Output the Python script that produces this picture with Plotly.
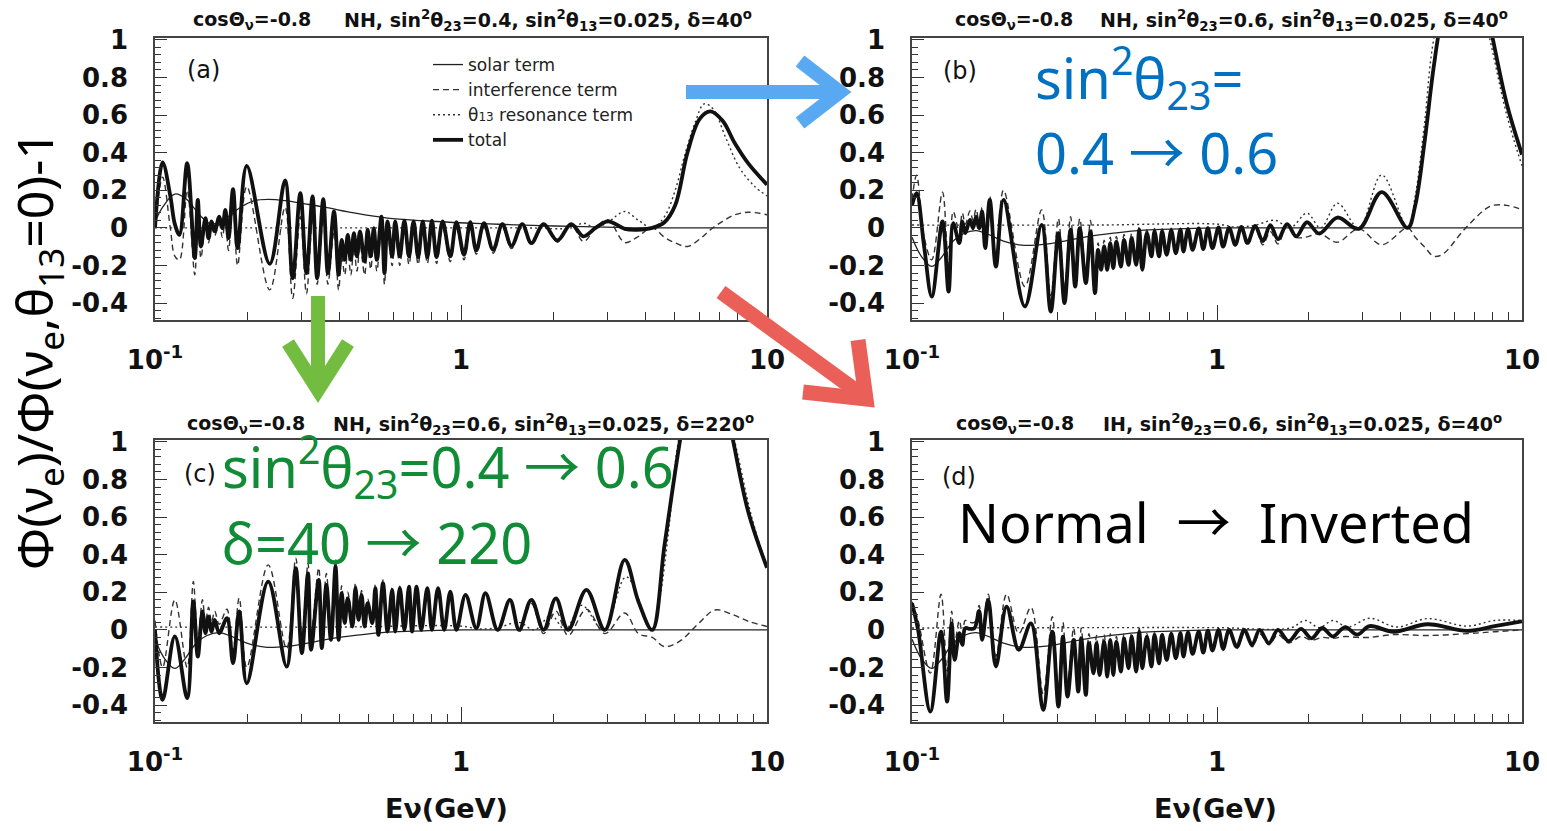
import plotly.graph_objects as go

W, H = 1547, 831

# ---------------- panel (a): NH, sin^2(theta23)=0.4, delta=40 ----------------
E_a = [0.1000, 0.1059, 0.1122, 0.1161, 0.1202, 0.1274, 0.1349, 0.1380, 0.1413, 0.1462,
       0.1496, 0.1531, 0.1567, 0.1622, 0.1660, 0.1698, 0.1738, 0.1799, 0.1862, 0.1995,
       0.2371, 0.2661, 0.2818, 0.2985, 0.3126, 0.3273, 0.3388, 0.3548, 0.3673, 0.3846,
       0.3981, 0.4074, 0.4169, 0.4266, 0.4365, 0.4467, 0.4571, 0.4677, 0.4842, 0.4955,
       0.5070, 0.5188, 0.5309, 0.5495, 0.5623, 0.5754, 0.5957, 0.6096, 0.6310, 0.6531,
       0.6761, 0.6998, 0.7244, 0.7499, 0.7762, 0.8035, 0.8318, 0.8710, 0.9226, 0.9661,
       1.023, 1.072, 1.122, 1.189, 1.274, 1.365, 1.462, 1.585, 1.698, 1.862,
       2.065, 2.291, 2.512, 2.754, 3.020, 3.428, 3.758, 4.217, 4.624, 5.012,
       5.495, 6.026, 6.532, 7.161, 7.852, 8.710, 10.0]
total_a = [0.0, 0.348, 0.17, 0.02, -0.037, 0.344, -0.161, 0.149, -0.099, 0.052,
           -0.055, 0.034, -0.019, 0.06, -0.002, 0.096, -0.055, 0.206, -0.108, 0.33,
           -0.191, 0.252, -0.268, 0.185, -0.241, 0.167, -0.268, 0.153, -0.241, 0.087,
           -0.25, -0.064, -0.17, -0.037, -0.17, -0.028, -0.152, -0.019, -0.179, -0.01,
           -0.152, -0.002, -0.17, 0.06, -0.241, 0.034, -0.152, 0.034, -0.152, 0.039,
           -0.152, 0.034, -0.156, 0.034, -0.156, 0.039, -0.156, 0.034, -0.152, 0.03,
           -0.143, 0.03, -0.12, 0.025, -0.117, 0.02, -0.096, 0.02, -0.081, 0.02,
           -0.067, 0.02, -0.045, 0.0, 0.035, -0.005, -0.01, 0.0, 0.03, 0.12,
           0.40, 0.58, 0.62, 0.57, 0.45, 0.34, 0.23]
interf_a = [0.0, 0.27, 0.0, -0.15, -0.17, 0.2, -0.25, 0.07, -0.16, 0.02,
            -0.08, 0.015, -0.04, 0.02, -0.05, 0.045, -0.12, 0.11, -0.2, 0.22,
            -0.33, 0.11, -0.375, 0.06, -0.35, 0.05, -0.3, 0.05, -0.3, -0.02,
            -0.33, -0.15, -0.25, -0.115, -0.25, -0.105, -0.23, -0.09, -0.25, -0.08,
            -0.22, -0.07, -0.23, 0.0, -0.3, -0.02, -0.2, -0.015, -0.2, -0.005,
            -0.195, -0.008, -0.195, -0.005, -0.19, 0.003, -0.19, 0.0, -0.18, 0.002,
            -0.17, 0.005, -0.14, 0.005, -0.135, 0.003, -0.11, 0.008, -0.09, 0.01,
            -0.075, 0.015, -0.073, 0.0, 0.043, -0.078, -0.05, 0.0, -0.05, -0.08,
            -0.099, -0.06, -0.01, 0.035, 0.07, 0.083, 0.07]
E_solar_a = [0.1000, 0.1059, 0.1161, 0.1274, 0.1396, 0.1531, 0.1698, 0.1905, 0.2113, 0.2344,
             0.2661, 0.3090, 0.3589, 0.4519, 0.5754, 0.7499, 1.035, 1.397, 2.018, 2.951,
             3.846, 5.0, 10.0]
solar_a = [0.03, 0.11, 0.18, 0.15, 0.07, 0.02, 0.05, 0.11, 0.145, 0.152,
           0.145, 0.128, 0.11, 0.078, 0.052, 0.038, 0.026, 0.018, 0.01, 0.004,
           0.0, 0.0, 0.0]
E_reson_a = [0.1, 1.585, 2.291, 2.512, 2.754, 3.020, 3.428, 3.802, 4.217, 4.624,
             5.012, 5.370, 5.821, 6.237, 6.684, 7.328, 8.128, 9.120, 10.0]
reson_a = [0.0, 0.0, 0.0, 0.025, 0.0, 0.03, 0.087, 0.04, 0.0, 0.06,
           0.2, 0.38, 0.56, 0.66, 0.63, 0.48, 0.32, 0.22, 0.17]

# ------------- solar / resonance terms for sin^2(theta23)=0.6 -------------
E_solar_06 = [0.1000, 0.1072, 0.1161, 0.1245, 0.1365, 0.1479, 0.1622, 0.1778, 0.1995, 0.2291,
              0.2692, 0.3162, 0.3802, 0.4571, 0.5754, 0.7586, 1.023, 2.0, 10.0]
solar_06 = [-0.05, -0.15, -0.205, -0.16, -0.07, -0.03, -0.015, -0.035, -0.07, -0.092,
            -0.088, -0.07, -0.045, -0.028, -0.012, -0.005, 0.0, 0.0, 0.0]
E_reson_06 = [0.1, 0.3981, 1.0, 1.148, 1.318, 1.549, 1.738, 1.972, 2.188, 2.483,
              2.917, 3.467, 4.217, 4.467, 4.786, 5.129, 6.310, 7.852, 8.913, 10.0]
reson_06 = [0.015, 0.015, 0.02, 0.005, 0.012, 0.04, 0.0, 0.078, 0.0, 0.131,
            0.0, 0.282, 0.0, 0.17, 0.55, 1.0, 1.65, 1.0, 0.6, 0.33]

# ---------------- panel (b): NH, sin^2(theta23)=0.6, delta=40 ----------------
E_b = [0.1000, 0.1035, 0.1096, 0.1161, 0.1259, 0.1318, 0.1365, 0.1429, 0.1462, 0.1496,
       0.1549, 0.1585, 0.1622, 0.1660, 0.1698, 0.1738, 0.1799, 0.1884, 0.1995, 0.2344,
       0.2661, 0.2851, 0.3020, 0.3162, 0.3311, 0.3428, 0.3548, 0.3715, 0.3846, 0.3981,
       0.4074, 0.4169, 0.4266, 0.4365, 0.4467, 0.4571, 0.4677, 0.4842, 0.4955, 0.5129,
       0.5248, 0.5433, 0.5559, 0.5689, 0.5888, 0.6096, 0.6238, 0.6457, 0.6607, 0.6840,
       0.7079, 0.7328, 0.7586, 0.7762, 0.8035, 0.8318, 0.8710, 0.9016, 0.9333, 0.9661,
       1.012, 1.047, 1.096, 1.148, 1.202, 1.259, 1.334, 1.413, 1.496, 1.585,
       1.698, 1.820, 1.972, 2.163, 2.483, 2.917, 3.467, 4.217, 4.467, 4.786,
       5.129, 5.495, 6.457, 7.586, 8.035, 8.913, 10.0]
total_b = [0.12, 0.185, -0.1, -0.365, 0.034, -0.339, 0.025, -0.081, 0.034, -0.028,
           0.043, -0.002, 0.06, -0.002, 0.087, -0.108, 0.149, -0.206, 0.149, -0.418,
           0.016, -0.445, -0.028, -0.4, -0.01, -0.312, -0.002, -0.294, -0.019, -0.347,
           -0.117, -0.223, -0.099, -0.223, -0.081, -0.214, -0.073, -0.206, -0.064, -0.197,
           -0.055, -0.197, -0.01, -0.223, -0.028, -0.152, -0.019, -0.152, -0.019, -0.143,
           -0.014, -0.135, -0.01, -0.126, -0.007, -0.117, -0.003, -0.113, -0.002, -0.108,
           0.002, -0.1, 0.0, -0.09, 0.005, -0.08, 0.01, -0.07, 0.015, -0.06,
           0.02, -0.045, 0.03, -0.03, 0.055, -0.005, 0.19, 0.0, 0.12, 0.45,
           0.85, 1.15, 1.55, 1.2, 1.0, 0.66, 0.39]
interf_b = [0.15, 0.28, -0.05, -0.17, 0.19, -0.2, 0.087, -0.02, 0.08, 0.02,
            0.09, 0.04, 0.1, 0.03, 0.11, -0.08, 0.17, -0.15, 0.2, -0.312,
            0.096, -0.36, 0.05, -0.32, 0.06, -0.25, 0.05, -0.23, 0.04, -0.29,
            -0.08, -0.18, -0.065, -0.185, -0.05, -0.18, -0.045, -0.175, -0.035, -0.17,
            -0.03, -0.17, 0.01, -0.2, -0.01, -0.135, -0.003, -0.138, -0.005, -0.13,
            -0.002, -0.125, 0.0, -0.118, 0.0, -0.11, 0.002, -0.108, 0.003, -0.105,
            0.002, -0.1, -0.005, -0.095, -0.003, -0.09, -0.002, -0.09, -0.02, -0.085,
            0.01, -0.05, -0.048, -0.03, -0.076, -0.005, -0.09, 0.0, -0.05, -0.1,
            -0.15, -0.14, -0.01, 0.1, 0.12, 0.12, 0.097]

# ---------------- panel (c): NH, sin^2(theta23)=0.6, delta=220 ----------------
E_c = [0.1000, 0.1059, 0.1161, 0.1274, 0.1334, 0.1380, 0.1429, 0.1462, 0.1496, 0.1531,
       0.1567, 0.1622, 0.1718, 0.1799, 0.1884, 0.1995, 0.2344, 0.2692, 0.2884, 0.3020,
       0.3162, 0.3236, 0.3428, 0.3508, 0.3631, 0.3758, 0.3890, 0.3981, 0.4074, 0.4169,
       0.4266, 0.4416, 0.4519, 0.4624, 0.4732, 0.4842, 0.4955, 0.5129, 0.5248, 0.5370,
       0.5559, 0.5754, 0.5957, 0.6096, 0.6310, 0.6531, 0.6761, 0.6918, 0.7161, 0.7413,
       0.7762, 0.8035, 0.8414, 0.8811, 0.9226, 0.9661, 1.035, 1.122, 1.202, 1.318,
       1.445, 1.549, 1.698, 1.862, 2.042, 2.239, 2.570, 2.951, 3.428, 3.802,
       4.217, 4.624, 5.188, 6.026, 6.761, 7.762, 8.710, 10.0]
total_c = [0.0, -0.372, -0.035, -0.363, 0.151, -0.142, 0.098, -0.018, 0.071, -0.009,
           0.053, -0.018, 0.062, -0.177, 0.098, -0.284, 0.257, -0.195, 0.328, -0.124,
           0.301, -0.106, 0.266, -0.097, 0.239, -0.053, 0.337, -0.053, 0.195, 0.036,
           0.168, 0.018, 0.222, 0.053, 0.186, 0.018, 0.142, 0.036, 0.222, -0.027,
           0.248, -0.009, 0.213, -0.009, 0.222, 0.0, 0.23, -0.009, 0.23, 0.0,
           0.222, 0.0, 0.222, 0.0, 0.204, 0.0, 0.186, 0.009, 0.195, 0.0,
           0.16, 0.0, 0.16, 0.0, 0.168, 0.0, 0.213, 0.0, 0.372, 0.15,
           0.0, 0.45, 1.0, 1.6, 1.5, 1.0, 0.62, 0.33]
interf_c = [0.05, -0.2, 0.16, -0.2, 0.257, -0.06, 0.16, 0.04, 0.12, 0.04,
            0.1, 0.03, 0.11, -0.11, 0.17, -0.2, 0.346, -0.1, 0.381, -0.03,
            0.355, -0.02, 0.33, -0.02, 0.3, 0.01, 0.38, 0.0, 0.235, 0.07,
            0.2, 0.05, 0.25, 0.08, 0.21, 0.04, 0.165, 0.055, 0.24, -0.01,
            0.265, 0.005, 0.225, 0.003, 0.232, 0.01, 0.238, -0.001, 0.236, 0.005,
            0.226, 0.004, 0.225, 0.002, 0.206, 0.001, 0.186, 0.009, 0.195, 0.0,
            0.15, -0.01, 0.14, -0.02, 0.1, -0.03, 0.11, -0.02, 0.09, -0.02,
            -0.04, -0.089, -0.06, 0.04, 0.106, 0.08, 0.045, 0.018]

# ---------------- panel (d): IH, sin^2(theta23)=0.6, delta=40 ----------------
E_d = [0.1000, 0.1047, 0.1148, 0.1245, 0.1303, 0.1349, 0.1380, 0.1429, 0.1462, 0.1496,
       0.1549, 0.1603, 0.1660, 0.1698, 0.1778, 0.1884, 0.2042, 0.2239, 0.2455, 0.2692,
       0.2884, 0.3020, 0.3126, 0.3236, 0.3388, 0.3508, 0.3589, 0.3715, 0.3802, 0.3936,
       0.4027, 0.4121, 0.4266, 0.4365, 0.4467, 0.4571, 0.4677, 0.4842, 0.4955, 0.5129,
       0.5248, 0.5433, 0.5559, 0.5689, 0.5888, 0.6096, 0.6238, 0.6457, 0.6607, 0.6840,
       0.7079, 0.7328, 0.7586, 0.7762, 0.8035, 0.8318, 0.8710, 0.9016, 0.9333, 0.9661,
       1.012, 1.047, 1.096, 1.161, 1.230, 1.303, 1.380, 1.479, 1.585, 1.718,
       1.884, 2.042, 2.213, 2.399, 2.630, 2.884, 3.162, 3.802, 4.898, 6.607,
       8.128, 10.0]
total_d = [0.142, 0.0, -0.435, -0.009, -0.382, 0.035, -0.16, -0.018, -0.08, 0.009,
           0.005, 0.009, 0.101, -0.053, 0.159, -0.195, 0.124, -0.106, 0.035, -0.426,
           -0.009, -0.408, -0.036, -0.355, -0.053, -0.328, -0.045, -0.346, -0.071, -0.231,
           -0.071, -0.24, -0.062, -0.249, -0.053, -0.24, -0.062, -0.222, -0.045, -0.204,
           -0.036, -0.222, -0.009, -0.204, -0.036, -0.195, -0.027, -0.178, -0.027, -0.16,
           -0.022, -0.151, -0.018, -0.142, -0.014, -0.128, -0.009, -0.121, -0.004, -0.11,
           0.0, -0.1, 0.0, -0.09, 0.0, -0.08, 0.0, -0.07, 0.0, -0.06,
           0.005, -0.045, 0.01, -0.035, 0.015, -0.025, 0.02, -0.01, 0.03, -0.005,
           0.02, 0.045]
interf_d = [0.15, 0.05, -0.23, 0.19, -0.22, 0.1, -0.07, 0.05, -0.02, 0.05,
            0.04, 0.04, 0.13, -0.02, 0.19, -0.14, 0.19, -0.02, 0.12, -0.34,
            0.07, -0.33, 0.04, -0.29, 0.01, -0.27, 0.01, -0.29, -0.02, -0.19,
            -0.03, -0.2, -0.025, -0.215, -0.02, -0.21, -0.035, -0.195, -0.02, -0.18,
            -0.015, -0.2, 0.01, -0.185, -0.02, -0.18, -0.015, -0.166, -0.017, -0.15,
            -0.014, -0.143, -0.011, -0.136, -0.009, -0.123, -0.006, -0.118, -0.002, -0.108,
            -0.005, -0.11, -0.01, -0.1, -0.015, -0.09, -0.02, -0.08, -0.025, -0.07,
            -0.035, -0.055, -0.04, -0.045, -0.035, -0.04, -0.04, -0.025, -0.03, -0.02,
            -0.01, 0.0]
E_reson_d = [0.1, 0.3981, 1.0, 1.738, 1.950, 2.163, 2.399, 2.692, 3.162, 3.890,
             4.898, 6.607, 8.128, 10.0]
reson_d = [0.01, 0.012, 0.012, 0.01, 0.05, 0.012, 0.05, 0.015, 0.062, 0.015,
           0.06, 0.02, 0.05, 0.05]

# ---------------- axis ticks ----------------
y_tick_vals = [-0.4, -0.2, 0, 0.2, 0.4, 0.6, 0.8, 1]
y_tick_text = ["-0.4", "-0.2", "0", "0.2", "0.4", "0.6", "0.8", "1"]
x_tick_vals = [0.1, 1, 10]
x_tick_text = ["10<sup>-1</sup>", "1", "10"]
x_minor_vals = [0.2, 0.3, 0.4, 0.5, 0.6, 0.7, 0.8, 0.9, 2, 3, 4, 5, 6, 7, 8, 9]

term_names = ["solar term", "interference term",
              "θ<span style='font-size:12px'>13</span> resonance term", "total"]

panels = [
    # (axis suffix, E total/interf, total, interf, E solar, solar, E reson, reson)
    ("", E_a, total_a, interf_a, E_solar_a, solar_a, E_reson_a, reson_a),
    ("2", E_b, total_b, interf_b, E_solar_06, solar_06, E_reson_06, reson_06),
    ("3", E_c, total_c, interf_c, E_solar_06, solar_06, E_reson_06, reson_06),
    ("4", E_d, total_d, interf_d, E_solar_06, solar_06, E_reson_d, reson_d),
]

fig = go.Figure()
for i, (ax, E, tot, intf, Es, sol, Er, res) in enumerate(panels):
    show = (i == 0)
    common = dict(xaxis="x" + ax, yaxis="y" + ax, mode="lines", hoverinfo="skip")
    fig.add_trace(go.Scatter(x=Es, y=sol, name=term_names[0], showlegend=show,
                             line=dict(color="#222", width=1.3, shape="spline", smoothing=1.0),
                             **common))
    fig.add_trace(go.Scatter(x=E, y=intf, name=term_names[1], showlegend=show,
                             line=dict(color="#333", width=1.4, dash="6px,4px",
                                       shape="spline", smoothing=1.0), **common))
    fig.add_trace(go.Scatter(x=Er, y=res, name=term_names[2], showlegend=show,
                             line=dict(color="#333", width=1.4, dash="2px,3px",
                                       shape="spline", smoothing=1.0), **common))
    fig.add_trace(go.Scatter(x=E, y=tot, name=term_names[3], showlegend=show,
                             line=dict(color="#111", width=3.8, shape="spline", smoothing=1.0),
                             **common))


def px(x):
    return x / W


def py(y):
    return 1 - y / H


tick_font = dict(family="DejaVu Sans", size=26, color="#111", weight="bold")


def x_axis(dom, anchor):
    return dict(type="log", range=[-1, 1], domain=dom, anchor=anchor, automargin=False,
                tickmode="array", tickvals=x_tick_vals, ticktext=x_tick_text,
                ticks="inside", ticklen=15, tickwidth=1.2, tickcolor="#333",
                minor=dict(tickmode="array", tickvals=x_minor_vals, ticks="inside",
                           ticklen=8, tickwidth=1, tickcolor="#333", showgrid=False),
                showline=True, linecolor="#444", linewidth=1.5, mirror=True,
                showgrid=False, zeroline=False, tickfont=tick_font,
                ticklabelstandoff=16)


def y_axis(dom, anchor):
    return dict(range=[-0.49, 1.01], domain=dom, anchor=anchor, automargin=False,
                tickmode="array", tickvals=y_tick_vals, ticktext=y_tick_text,
                ticks="inside", ticklen=12, tickwidth=1.2, tickcolor="#333",
                minor=dict(tick0=0, dtick=0.04, ticks="inside", ticklen=6,
                           tickwidth=1, tickcolor="#333", showgrid=False),
                showline=True, linecolor="#444", linewidth=1.5, mirror=True,
                showgrid=False, zeroline=False, tickfont=tick_font,
                ticklabelstandoff=20)


x_left = [px(155), px(767)]
x_right = [px(912), px(1522)]
y_top = [py(320), py(38)]
y_bot = [py(722), py(440)]

title_font = dict(family="DejaVu Sans", size=19, color="#111", weight="bold")
label_font = dict(family="DejaVu Sans", size=24, color="#111")
big_font = "Noto Sans"
blue_txt = "#0070C0"
green_txt = "#0F8C35"
ARROW = "<span style='font-family:Noto Sans CJK JP'>→</span>"

annotations = []


def note(x, y, text, font, xanchor="center", yanchor="middle", angle=0):
    annotations.append(dict(x=px(x), y=py(y), xref="paper", yref="paper", text=text,
                            showarrow=False, font=font, xanchor=xanchor,
                            yanchor=yanchor, textangle=angle))


cos_txt = "cosΘ<sub>ν</sub>=-0.8"
note(252, 20, cos_txt, title_font)
note(548, 20, "NH, sin<sup>2</sup>θ<sub>23</sub>=0.4, sin<sup>2</sup>θ<sub>13</sub>=0.025, δ=40<sup>o</sup>", title_font)
note(1014, 20, cos_txt, title_font)
note(1304, 20, "NH, sin<sup>2</sup>θ<sub>23</sub>=0.6, sin<sup>2</sup>θ<sub>13</sub>=0.025, δ=40<sup>o</sup>", title_font)
note(246, 424, cos_txt, title_font)
note(543, 424, "NH, sin<sup>2</sup>θ<sub>23</sub>=0.6, sin<sup>2</sup>θ<sub>13</sub>=0.025, δ=220<sup>o</sup>", title_font)
note(1015, 424, cos_txt, title_font)
note(1302, 424, "IH, sin<sup>2</sup>θ<sub>23</sub>=0.6, sin<sup>2</sup>θ<sub>13</sub>=0.025, δ=40<sup>o</sup>", title_font)

note(203, 70, "(a)", label_font)
note(960, 71, "(b)", label_font)
note(200, 474, "(c)", label_font)
note(959, 477, "(d)", label_font)

axis_title_font = dict(family="DejaVu Sans", size=27, color="#111", weight="bold")
note(447, 808, "Eν(GeV)", axis_title_font)
note(1215, 808, "Eν(GeV)", axis_title_font)

note(37, 351, "Φ(ν<sub>e</sub>)/Φ(ν<sub>e</sub>,θ<sub>13</sub>=0)-1",
     dict(family=big_font, size=50, color="#000"), angle=-90)

note(1033, 77, "sin<sup>2</sup>θ<sub>23</sub>=", dict(family=big_font, size=56, color=blue_txt),
     xanchor="left")
note(1033, 149, "0.4 " + ARROW + " 0.6", dict(family=big_font, size=56, color=blue_txt),
     xanchor="left")
note(220, 466, "sin<sup>2</sup>θ<sub>23</sub>=0.4 " + ARROW + " 0.6",
     dict(family=big_font, size=56, color=green_txt), xanchor="left")
note(220, 539, "δ=40 " + ARROW + " 220", dict(family=big_font, size=56, color=green_txt),
     xanchor="left")
note(956, 519, "Normal\u00a0\u00a0" + ARROW + "\u00a0\u00a0Inverted",
     dict(family=big_font, size=54, color="#000"), xanchor="left")


def path(points):
    return "M " + " L ".join(f"{px(x):.5f},{py(y):.5f}" for x, y in points)


def arrow(points, color, width):
    return dict(type="path", xref="paper", yref="paper", path=path(points),
                line=dict(color=color, width=width), layer="above")


shapes = [
    arrow([(686, 92), (830, 92)], "#59A9F2", 14),
    arrow([(800, 61), (840, 92), (800, 123)], "#59A9F2", 14),
    arrow([(318, 296), (318, 386)], "#72BD3F", 14),
    arrow([(288, 343), (318, 390), (348, 343)], "#72BD3F", 14),
    arrow([(721, 292), (862, 395)], "#EA5F58", 15),
    arrow([(803, 392), (866, 399), (858, 340)], "#EA5F58", 15),
]

fig.update_layout(
    width=W, height=H, autosize=False,
    margin=dict(l=0, r=0, t=0, b=0, pad=0, autoexpand=False),
    paper_bgcolor="white", plot_bgcolor="white",
    xaxis=x_axis(x_left, "y"), yaxis=y_axis(y_top, "x"),
    xaxis2=x_axis(x_right, "y2"), yaxis2=y_axis(y_top, "x2"),
    xaxis3=x_axis(x_left, "y3"), yaxis3=y_axis(y_bot, "x3"),
    xaxis4=x_axis(x_right, "y4"), yaxis4=y_axis(y_bot, "x4"),
    showlegend=True,
    legend=dict(x=px(428), y=py(47), xanchor="left", yanchor="top",
                bgcolor="rgba(0,0,0,0)", borderwidth=0, tracegroupgap=0,
                font=dict(family="DejaVu Sans", size=17, color="#222")),
    annotations=annotations, shapes=shapes,
)

fig.write_html("out.html")
